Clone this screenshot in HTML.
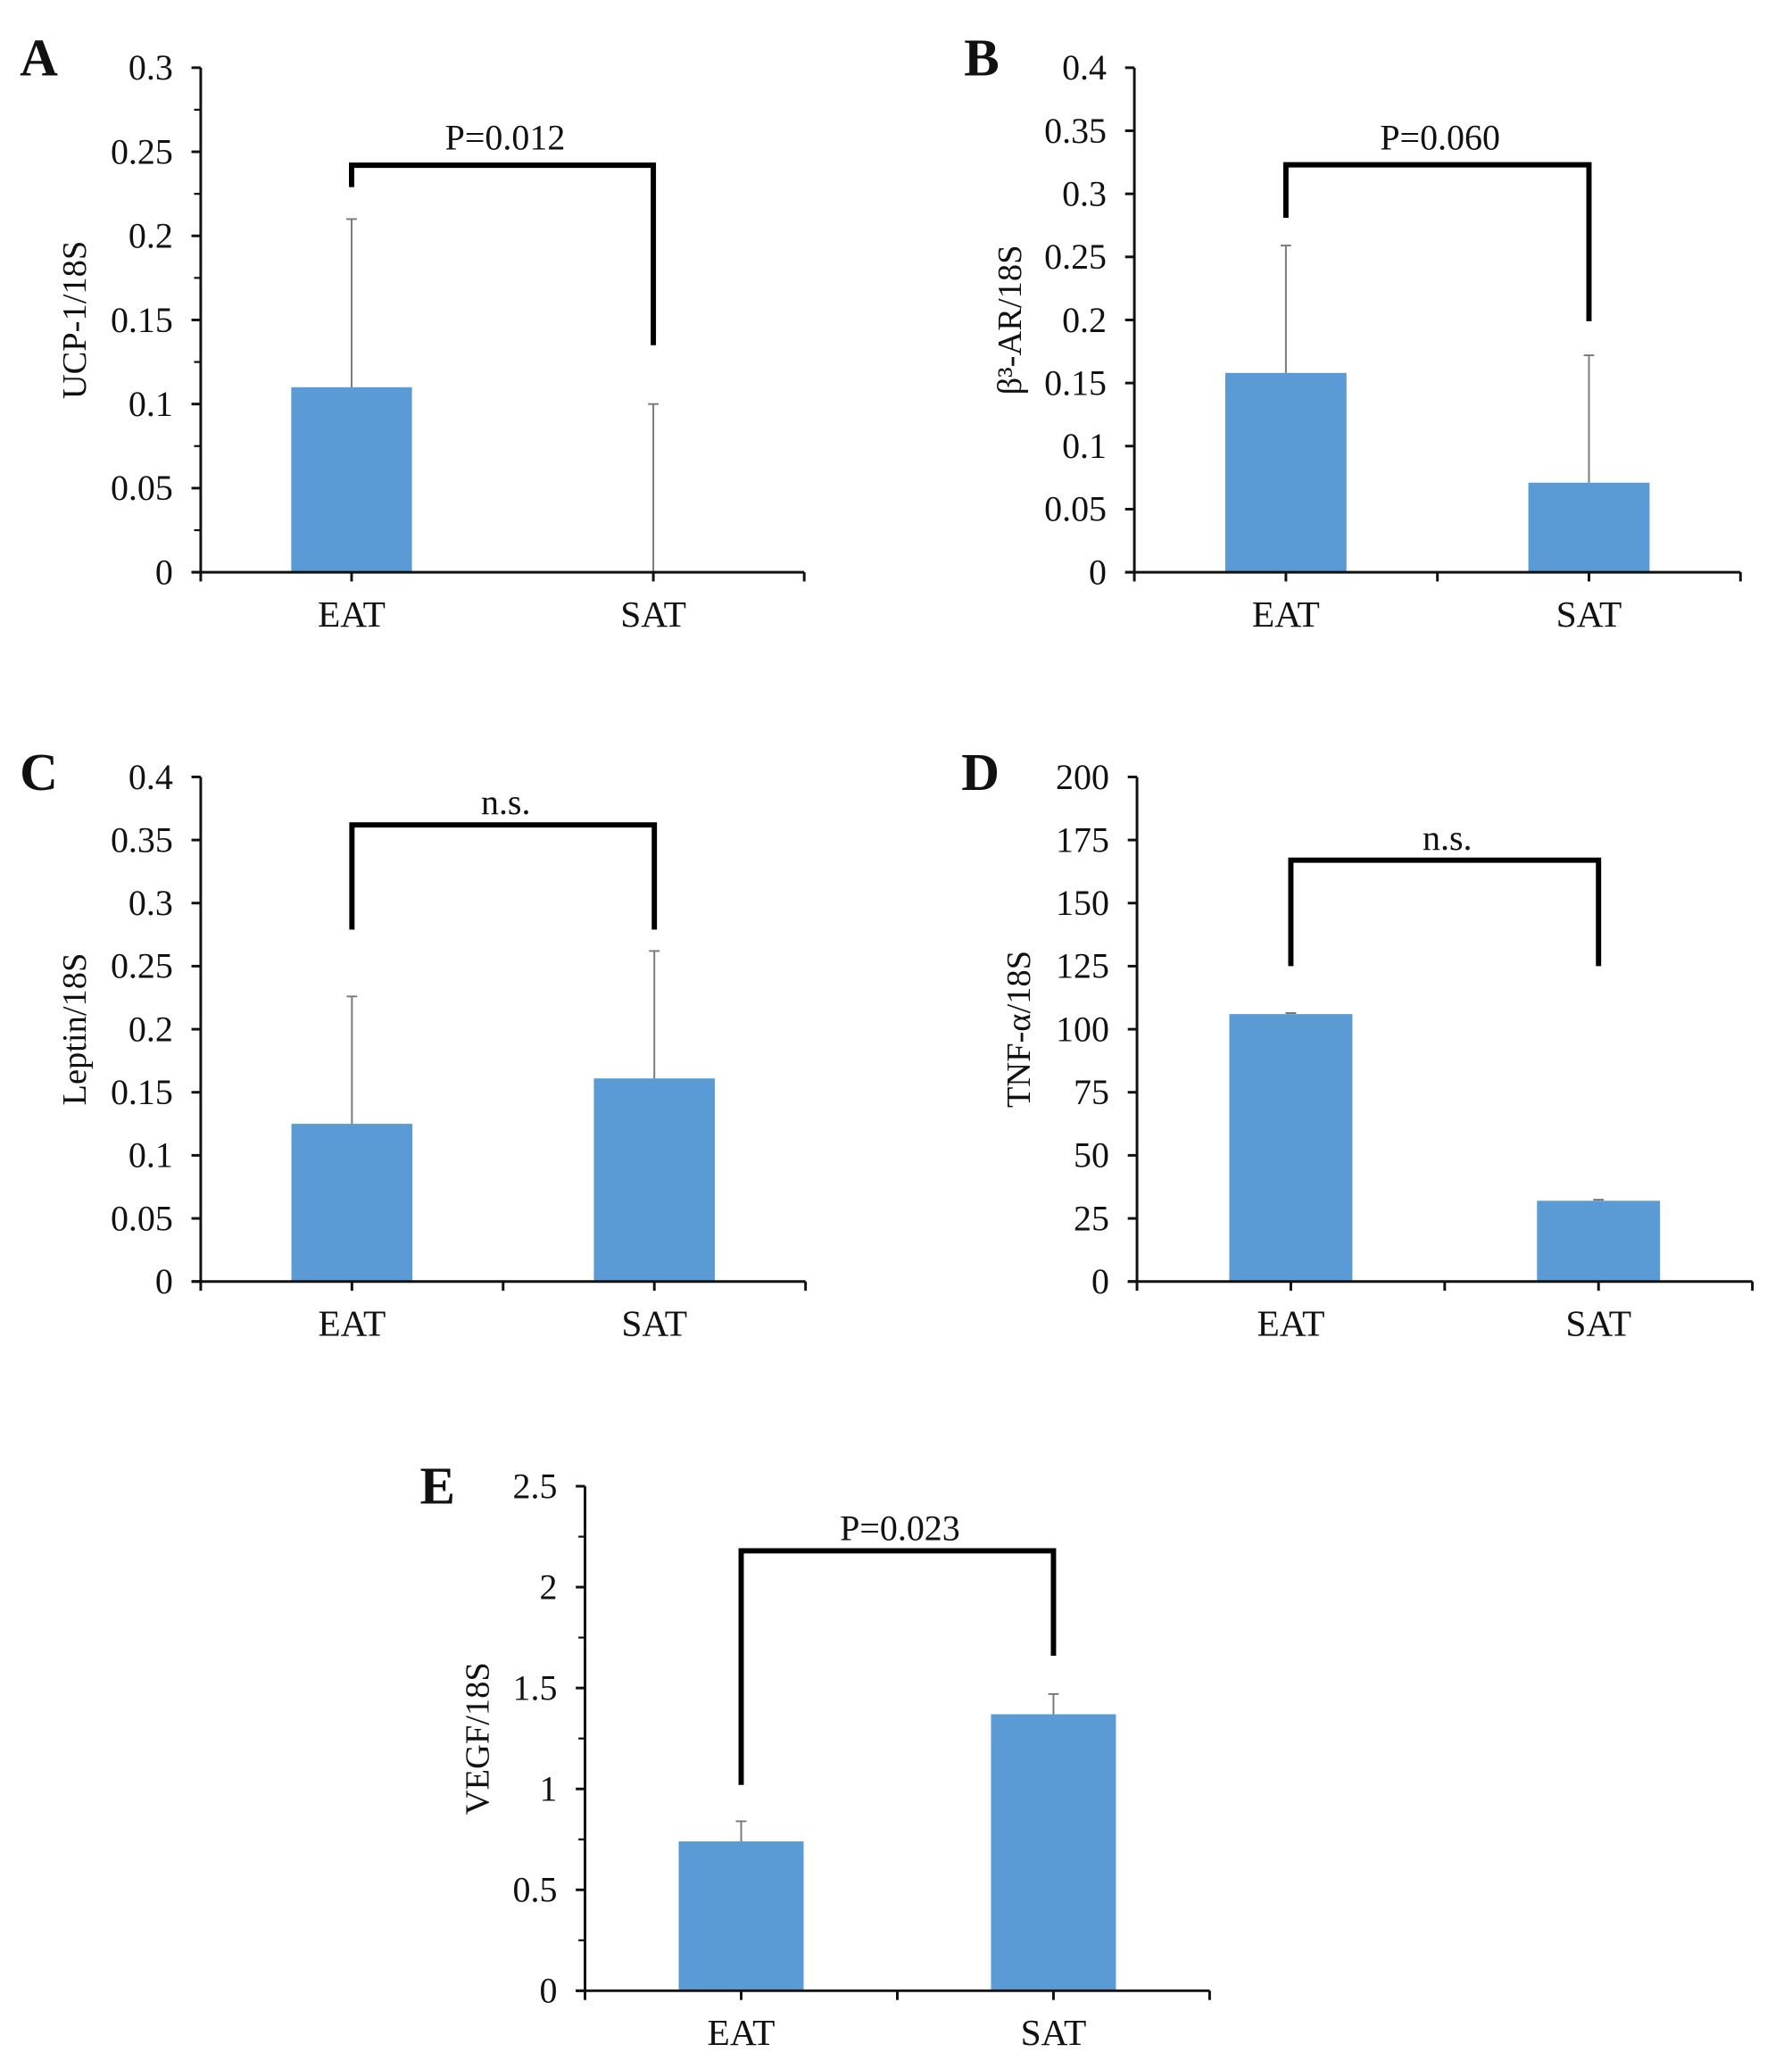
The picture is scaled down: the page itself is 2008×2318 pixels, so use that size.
<!DOCTYPE html>
<html><head><meta charset="utf-8"><style>
html,body{margin:0;padding:0;background:#fff;}
svg{display:block;}
text{font-family:"Liberation Serif",serif;fill:#111;}
</style></head><body>
<svg id="fig" width="2008" height="2318" viewBox="0 0 1357 1566" xmlns="http://www.w3.org/2000/svg"></svg>
<script>
const categories = ["EAT", "SAT"];
const panelLetters = ["A", "B", "C", "D", "E"];
const yTitles = ["UCP-1/18S", "β³-AR/18S", "Leptin/18S", "TNF-α/18S", "VEGF/18S"];
const meansA = [0.11, 0.0];
const errsA = [0.10, 0.10];
const meansB = [0.158, 0.071];
const errsB = [0.101, 0.101];
const meansC = [0.125, 0.161];
const errsC = [0.101, 0.101];
const meansD = [106, 32];
const errsD = [0.4, 0.4];
const meansE = [0.74, 1.37];
const errsE = [0.10, 0.10];
const ticksA = ["0", "0.05", "0.1", "0.15", "0.2", "0.25", "0.3"];
const ticksB = ["0", "0.05", "0.1", "0.15", "0.2", "0.25", "0.3", "0.35", "0.4"];
const ticksC = ["0", "0.05", "0.1", "0.15", "0.2", "0.25", "0.3", "0.35", "0.4"];
const ticksD = ["0", "25", "50", "75", "100", "125", "150", "175", "200"];
const ticksE = ["0", "0.5", "1", "1.5", "2", "2.5"];
const sigLabels = ["P=0.012", "P=0.060", "n.s.", "n.s.", "P=0.023"];
// bracket: [top, leftEnd, rightEnd] in data units
const bracketA = [0.242, 0.229, 0.135];
const bracketB = [0.323, 0.281, 0.199];
const bracketC = [0.362, 0.279, 0.279];
const bracketD = [167, 125, 125];
const bracketE = [2.18, 1.02, 1.66];

const NS = "http://www.w3.org/2000/svg";
const svg = document.getElementById("fig");
function el(tag, attrs, parent) {
  const e = document.createElementNS(NS, tag);
  for (const k in attrs) e.setAttribute(k, attrs[k]);
  (parent || svg).appendChild(e);
  return e;
}
const layouts = [
  {x0:152, x1:609, yTop:51, yBot:433, lx:15, ly:57, tx:57, minor:true, midTick:false, lblY:104},
  {x0:859, x1:1318, yTop:51, yBot:433, lx:730, ly:57, tx:765, minor:false, midTick:true, lblY:104},
  {x0:152, x1:610, yTop:588, yBot:970, lx:15, ly:598, tx:57, minor:false, midTick:true, lblY:607},
  {x0:861, x1:1327, yTop:588, yBot:970, lx:728, ly:598, tx:772, minor:false, midTick:true, lblY:634},
  {x0:443, x1:916, yTop:1125, yBot:1507, lx:318, ly:1138, tx:362, minor:true, midTick:true, lblY:1157}
];
const allMeans = [meansA, meansB, meansC, meansD, meansE];
const allErrs = [errsA, errsB, errsC, errsD, errsE];
const allTicks = [ticksA, ticksB, ticksC, ticksD, ticksE];
const allBrackets = [bracketA, bracketB, bracketC, bracketD, bracketE];
const keys = ["a","b","c","d","e"];

layouts.forEach((L, p) => {
  const ticks = allTicks[p];
  const yMax = parseFloat(ticks[ticks.length - 1]);
  const y = v => L.yBot - (v / yMax) * (L.yBot - L.yTop);
  const band = (L.x1 - L.x0) / categories.length;
  const cx = i => L.x0 + band * (i + 0.5);
  const g = el("g", {});
  
  

  const letter = el("text", {x:L.lx, y:L.ly, "font-size":40, "font-weight":"bold"}, g);
  letter.textContent = panelLetters[p];
  
  

  allMeans[p].forEach((m, i) => {
    const bw = band * 0.4;
    const r = el("rect", {x:cx(i)-bw/2, y:y(m), width:bw, height:L.yBot - y(m), fill:"#5b9bd5"}, g);
    
    
    const top = y(m + allErrs[p][i]);
    const eb = el("path", {d:`M${cx(i)},${y(m)}V${top}M${cx(i)-4},${top}H${cx(i)+4}`, stroke:"#777", "stroke-width":1.3, fill:"none"}, g);
    
    
  });

  const ya = el("line", {x1:L.x0, y1:L.yTop, x2:L.x0, y2:L.yBot, stroke:"#111", "stroke-width":2}, g);
  
  
  ticks.forEach((t, k) => {
    const v = parseFloat(t);
    const yy = y(v);
    el("line", {x1:L.x0-7, y1:yy, x2:L.x0, y2:yy, stroke:"#111", "stroke-width":2}, g);
    const tl = el("text", {x:L.x0-21, y:yy+9, "font-size":27, "text-anchor":"end"}, g);
    tl.textContent = t;
    
    
    if (L.minor && k < ticks.length - 1) {
      const vm = (v + parseFloat(ticks[k+1])) / 2;
      el("line", {x1:L.x0-5, y1:y(vm), x2:L.x0, y2:y(vm), stroke:"#111", "stroke-width":1.5}, g);
    }
  });
  const xa = el("line", {x1:L.x0-7, y1:L.yBot, x2:L.x1, y2:L.yBot, stroke:"#111", "stroke-width":2}, g);
  
  
  const xt = [L.x0, L.x1, cx(0), cx(1)];
  if (L.midTick) xt.push((L.x0 + L.x1) / 2);
  xt.forEach(x => el("line", {x1:x, y1:L.yBot, x2:x, y2:L.yBot+7, stroke:"#111", "stroke-width":2}, g));
  categories.forEach((c, i) => {
    const t = el("text", {x:cx(i), y:L.yBot+41, "font-size":28, "text-anchor":"middle"}, g);
    t.textContent = c;
    
    
  });
  const yc = (L.yTop + L.yBot) / 2;
  const tt = el("text", {x:L.tx, y:yc, "font-size":26, "text-anchor":"middle", transform:`rotate(-90 ${L.tx} ${yc})`, dy:8}, g);
  tt.textContent = yTitles[p];
  
  
  const b = allBrackets[p];
  const br = el("path", {d:`M${cx(0)},${y(b[1])}V${y(b[0])}H${cx(1)}V${y(b[2])}`, stroke:"#000", "stroke-width":4, fill:"none"}, g);
  
  
  const sl = el("text", {x:(cx(0)+cx(1))/2 + 2, y:L.lblY + 9, "font-size":27, "text-anchor":"middle"}, g);
  sl.textContent = sigLabels[p];
  
  
});
</script>
</body></html>
